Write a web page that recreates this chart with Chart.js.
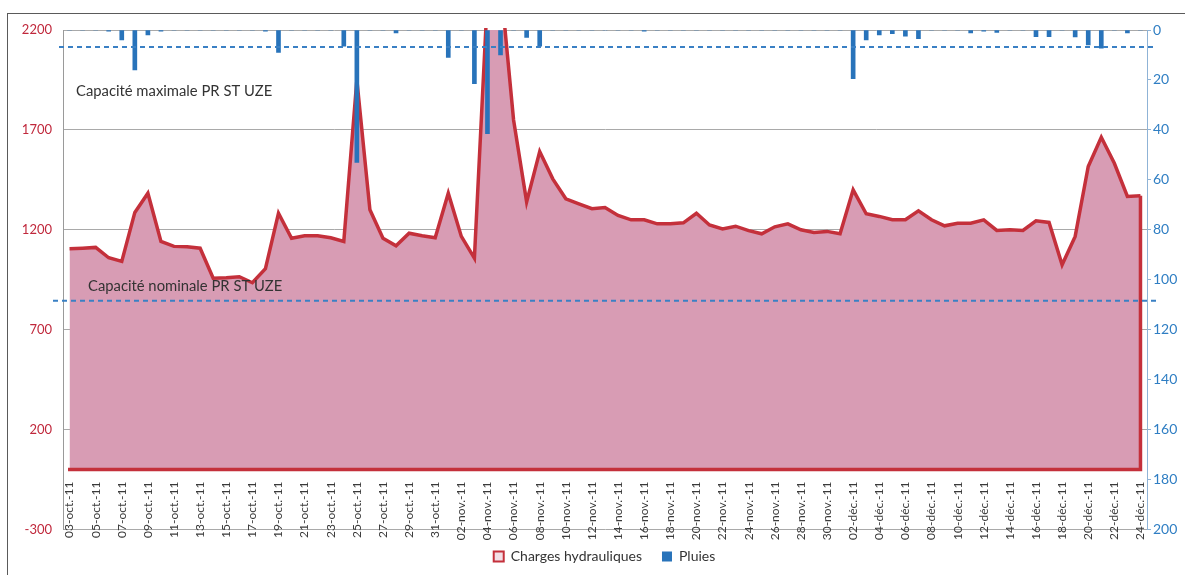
<!DOCTYPE html>
<html lang="fr">
<head>
<meta charset="utf-8">
<title>Charges hydrauliques et pluies</title>
<script src="https://cdn.jsdelivr.net/npm/chart.js@4.4.1/dist/chart.umd.min.js"></script>
<style>
  html, body { margin: 0; padding: 0; background: #ffffff; }
  #wrap { position: relative; width: 1185px; height: 575px; overflow: hidden; }
  #cadre { position: absolute; left: 7px; top: 13px; width: 1220px; height: 620px;
           border: 1px solid #5a5a5a; box-sizing: border-box; pointer-events: none; }
  canvas { position: absolute; left: 0; top: 0; }
</style>
</head>
<body>
<div id="wrap">
  <canvas id="graphique" width="1185" height="575"></canvas>
  <div id="cadre"></div>
</div>
<script>
// Jours de la période (un point par jour)
const jours = [
  '03-oct.-11','04-oct.-11','05-oct.-11','06-oct.-11','07-oct.-11','08-oct.-11','09-oct.-11','10-oct.-11',
  '11-oct.-11','12-oct.-11','13-oct.-11','14-oct.-11','15-oct.-11','16-oct.-11','17-oct.-11','18-oct.-11',
  '19-oct.-11','20-oct.-11','21-oct.-11','22-oct.-11','23-oct.-11','24-oct.-11','25-oct.-11','26-oct.-11',
  '27-oct.-11','28-oct.-11','29-oct.-11','30-oct.-11','31-oct.-11',
  '01-nov.-11','02-nov.-11','03-nov.-11','04-nov.-11','05-nov.-11','06-nov.-11','07-nov.-11','08-nov.-11',
  '09-nov.-11','10-nov.-11','11-nov.-11','12-nov.-11','13-nov.-11','14-nov.-11','15-nov.-11','16-nov.-11',
  '17-nov.-11','18-nov.-11','19-nov.-11','20-nov.-11','21-nov.-11','22-nov.-11','23-nov.-11','24-nov.-11',
  '25-nov.-11','26-nov.-11','27-nov.-11','28-nov.-11','29-nov.-11','30-nov.-11',
  '01-déc.-11','02-déc.-11','03-déc.-11','04-déc.-11','05-déc.-11','06-déc.-11','07-déc.-11','08-déc.-11',
  '09-déc.-11','10-déc.-11','11-déc.-11','12-déc.-11','13-déc.-11','14-déc.-11','15-déc.-11','16-déc.-11',
  '17-déc.-11','18-déc.-11','19-déc.-11','20-déc.-11','21-déc.-11','22-déc.-11','23-déc.-11','24-déc.-11'
];

// Charges hydrauliques journalières (axe gauche)
const chargesHydrauliques = [
  1105, 1108, 1112, 1060, 1042, 1287, 1383, 1142, 1117, 1115,
  1108,  958,  960,  965,  935, 1005, 1283, 1158, 1170, 1170,
  1160, 1142, 1950, 1300, 1158, 1120, 1183, 1170, 1160, 1383,
  1167, 1058, 2370, 2440, 1750, 1340, 1592, 1455, 1355, 1330,
  1306, 1312, 1272, 1250, 1250, 1230, 1230, 1235, 1283, 1224,
  1204, 1218, 1196, 1180, 1215, 1230, 1200, 1187, 1192, 1180,
  1400, 1280, 1267, 1250, 1250, 1295, 1250, 1220, 1233, 1233,
  1250, 1197, 1200, 1197, 1245, 1237, 1025, 1167, 1517, 1663,
  1533, 1367, 1370
];

// Pluies journalières (axe droit, inversé)
const pluies = [
  0, 0, 0, 0.5, 4, 16, 2, 0.5, 0, 0,
  0, 0, 0, 0, 0, 0.5, 9, 0, 0, 0,
  0, 6.5, 53, 0, 0, 1.2, 0, 0, 0, 11,
  0, 21.5, 41.5, 10, 0, 3, 6.5, 0, 0, 0,
  0, 0, 0, 0, 0.5, 0, 0, 0, 0, 0,
  0, 0, 0, 0, 0, 0, 0, 0, 0, 0,
  19.5, 4, 2, 1.5, 2.5, 3.5, 0, 0, 0, 1.2,
  0.5, 1, 0, 0, 2.7, 2.7, 0, 2.8, 6, 7.3,
  0, 1.2, 0
];

// Graduations des deux axes
const graduationsCharges = [-300, 200, 700, 1200, 1700, 2200];
const graduationsPluies = [0, 20, 40, 60, 80, 100, 120, 140, 160, 180, 200];

// Seuils de capacité du poste de refoulement
const capaciteMaximale = 2115;
const capaciteNominale = 845;

const rouge = '#c4303b';
const roseAire = 'rgb(216,156,180)';
const bleu = '#2873ba';
const police = 'Lato, "Open Sans", sans-serif';

// Contour de l'aire (bord droit et ligne de base) puis seuils et libellés
const seuils = {
  id: 'seuils',
  beforeDraw(chart) {
    // légende légèrement décalée vers la droite
    const lg = chart.legend;
    if (lg && !lg._decale) { lg.left += 12; lg.right += 12; lg._decale = true; }
  },
  afterDatasetDraw(chart, args) {
    if (args.index !== 0) return;
    const pts = chart.getDatasetMeta(0).data;
    const y0 = chart.scales.y.getPixelForValue(0);
    const ctx = chart.ctx;
    const dernier = pts[pts.length - 1];
    ctx.save();
    ctx.strokeStyle = rouge;
    ctx.lineWidth = 3.5;
    ctx.lineJoin = 'miter';
    ctx.beginPath();
    ctx.moveTo(dernier.x, dernier.y);
    ctx.lineTo(dernier.x, y0);
    ctx.lineTo(pts[0].x - 1.5, y0);
    ctx.stroke();
    ctx.restore();
  },
  afterDatasetsDraw(chart) {
    const { ctx, chartArea, scales } = chart;
    const y = scales.y;
    const yMax = y.getPixelForValue(capaciteMaximale);
    const yNom = y.getPixelForValue(capaciteNominale);
    ctx.save();
    ctx.strokeStyle = '#3a80c4';
    ctx.lineWidth = 2;
    ctx.setLineDash([5, 4]);
    [[yMax, chartArea.left - 4], [yNom, chartArea.left - 10]].forEach(([py, x0]) => {
      ctx.beginPath();
      ctx.moveTo(x0, py);
      ctx.lineTo(chartArea.right + 10, py);
      ctx.stroke();
    });
    ctx.setLineDash([]);
    ctx.fillStyle = '#333333';
    ctx.font = '14.8px ' + police;
    ctx.textBaseline = 'middle';
    ctx.textAlign = 'left';
    ctx.fillText('Capacité maximale PR ST UZE', chartArea.left + 13, yMax + 44);
    ctx.fillText('Capacité nominale PR ST UZE', chartArea.left + 25, yNom - 15);
    ctx.restore();
  }
};

new Chart(document.getElementById('graphique'), {
  data: {
    labels: jours,
    datasets: [
      {
        type: 'line',
        label: 'Charges hydrauliques',
        data: chargesHydrauliques,
        yAxisID: 'y',
        borderColor: rouge,
        backgroundColor: roseAire,
        borderWidth: 3.5,
        pointRadius: 0,
        tension: 0,
        fill: 'origin',
        clip: 2,
        order: 2
      },
      {
        type: 'bar',
        label: 'Pluies',
        data: pluies,
        yAxisID: 'y1',
        backgroundColor: bleu,
        borderWidth: 0,
        barThickness: 4,
        order: 1
      }
    ]
  },
  options: {
    responsive: false,
    animation: false,
    devicePixelRatio: 1,
    layout: { padding: { top: 30, left: 0, right: 0, bottom: 1.5 } },
    plugins: {
      tooltip: { enabled: false },
      legend: {
        position: 'bottom',
        labels: {
          sort: (a, b) => a.datasetIndex - b.datasetIndex,
          boxWidth: 10,
          boxHeight: 10,
          padding: 20,
          color: '#333333',
          font: { family: police, size: 14 },
          generateLabels(chart) {
            const items = Chart.defaults.plugins.legend.labels.generateLabels(chart);
            items.forEach(it => {
              if (it.datasetIndex === 0) { it.lineWidth = 2; it.strokeStyle = rouge; it.fillStyle = '#f3dfe6'; }
              else { it.lineWidth = 0; }
            });
            return items;
          }
        }
      }
    },
    scales: {
      x: {
        type: 'category',
        offset: true,
        position: { y: 0 },
        grid: { display: false },
        border: { display: false },
        ticks: {
          autoSkip: false,
          minRotation: 90,
          maxRotation: 90,
          padding: 4,
          color: '#3a3a3a',
          font: { family: police, size: 12 },
          callback: function (v, i) { return i % 2 === 0 ? this.getLabelForValue(v) : ''; }
        }
      },
      y: {
        position: 'left',
        min: -300,
        max: 2200,
        afterBuildTicks: s => { s.ticks = graduationsCharges.map(v => ({ value: v })); },
        afterFit: s => { s.width = 63; },
        grid: { color: '#a9a9a9', lineWidth: 1, drawTicks: false },
        border: { display: true, color: '#9a9a9a' },
        ticks: { color: '#c0283c', padding: 11, font: { family: police, size: 13 },
                 callback: v => String(v) }
      },
      y1: {
        position: 'right',
        min: 0,
        max: 200,
        reverse: true,
        afterBuildTicks: s => { s.ticks = graduationsPluies.map(v => ({ value: v })); },
        afterFit: s => { s.width = 38; },
        grid: { drawOnChartArea: false, tickLength: 4, color: '#8fb3d6' },
        border: { display: true, color: '#8fb3d6' },
        ticks: { color: '#2f7ec3', padding: 2, font: { family: police, size: 14 },
                 callback: v => String(v) }
      }
    }
  },
  plugins: [seuils]
});
</script>
</body>
</html>
